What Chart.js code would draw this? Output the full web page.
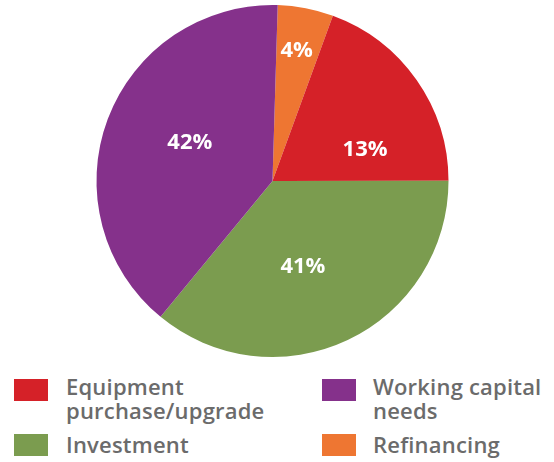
<!DOCTYPE html>
<html>
<head>
<meta charset="utf-8">
<script src="https://cdn.jsdelivr.net/npm/chart.js@4.4.1/dist/chart.umd.min.js"></script>
<style>
  html, body { margin: 0; padding: 0; background: #fff; }
  body { width: 554px; height: 462px; position: relative; overflow: hidden; font-family: "Open Sans", sans-serif; }
  #wrap { position: absolute; left: 0; top: 0; width: 554px; height: 362px; }
  #legend { position: absolute; left: 0; top: 0; width: 554px; }
  .item { position: absolute; color: #6b6b6b; font-size: 22px; font-weight: 600; line-height: 24px; letter-spacing: 0.2px; white-space: nowrap; }
  .box { position: absolute; width: 34px; height: 22px; }
</style>
</head>
<body>
<div id="wrap"><canvas id="pie"></canvas></div>
<div id="legend"></div>
<script>
// slice order clockwise from the top
const categories = ['Refinancing', 'Equipment purchase/upgrade', 'Investment', 'Working capital needs'];
const sliceValues = [5.1, 19.4, 36.0, 39.5];
const percentLabels = ['4%', '13%', '41%', '42%'];
const colors = ['#ee7632', '#d52128', '#7b9c4f', '#85318b'];

// legend layout: [index, column, row]
const legendOrder = [[1, 0, 0], [3, 1, 0], [2, 0, 1], [0, 1, 1]];
const legendLines = {
  1: ['Equipment', 'purchase/upgrade'],
  3: ['Working capital', 'needs'],
  2: ['Investment'],
  0: ['Refinancing']
};

const pctPlugin = {
  id: 'pctLabels',
  afterDatasetsDraw(chart, args, opts) {
    const ctx = chart.ctx;
    const meta = chart.getDatasetMeta(0);
    ctx.save();
    ctx.fillStyle = '#fff';
    ctx.font = '700 22px "Open Sans"';
    ctx.textAlign = 'center';
    ctx.textBaseline = 'middle';
    meta.data.forEach((arc, i) => {
      const p = arc.getProps(['startAngle', 'endAngle', 'outerRadius', 'x', 'y'], true);
      const a = (p.startAngle + p.endAngle) / 2 + opts.nudge[i] * Math.PI / 180;
      const r = p.outerRadius * opts.radius[i];
      ctx.fillText(percentLabels[i], p.x + Math.cos(a) * r, p.y + Math.sin(a) * r);
    });
    ctx.restore();
  }
};

new Chart(document.getElementById('pie'), {
  type: 'pie',
  data: {
    labels: categories,
    datasets: [{
      data: sliceValues,
      backgroundColor: colors,
      borderWidth: 0
    }]
  },
  options: {
    responsive: true,
    maintainAspectRatio: false,
    animation: false,
    rotation: 1.7,
    layout: { padding: { top: 5, bottom: 5, left: 0, right: 9 } },
    plugins: {
      legend: { display: false },
      tooltip: { enabled: false },
      pctLabels: { nudge: [-0.4, 16.4, 5.8, 4.1], radius: [0.755, 0.555, 0.517, 0.517] }
    }
  },
  plugins: [pctPlugin]
});

// html legend so the long labels can wrap onto two lines
const legend = document.getElementById('legend');
legendOrder.forEach(([i, col, row]) => {
  const bx = col === 0 ? 14 : 322;
  const tx = col === 0 ? 66 : 373;
  const by = row === 0 ? 379 : 434;
  const ty = row === 0 ? 373.5 : 431.5;
  const box = document.createElement('div');
  box.className = 'box';
  box.style.left = bx + 'px';
  box.style.top = by + 'px';
  box.style.background = colors[i];
  legend.appendChild(box);
  const txt = document.createElement('div');
  txt.className = 'item';
  txt.style.left = tx + 'px';
  txt.style.top = ty + 'px';
  txt.innerHTML = legendLines[i].join('<br>');
  legend.appendChild(txt);
});
</script>
</body>
</html>
